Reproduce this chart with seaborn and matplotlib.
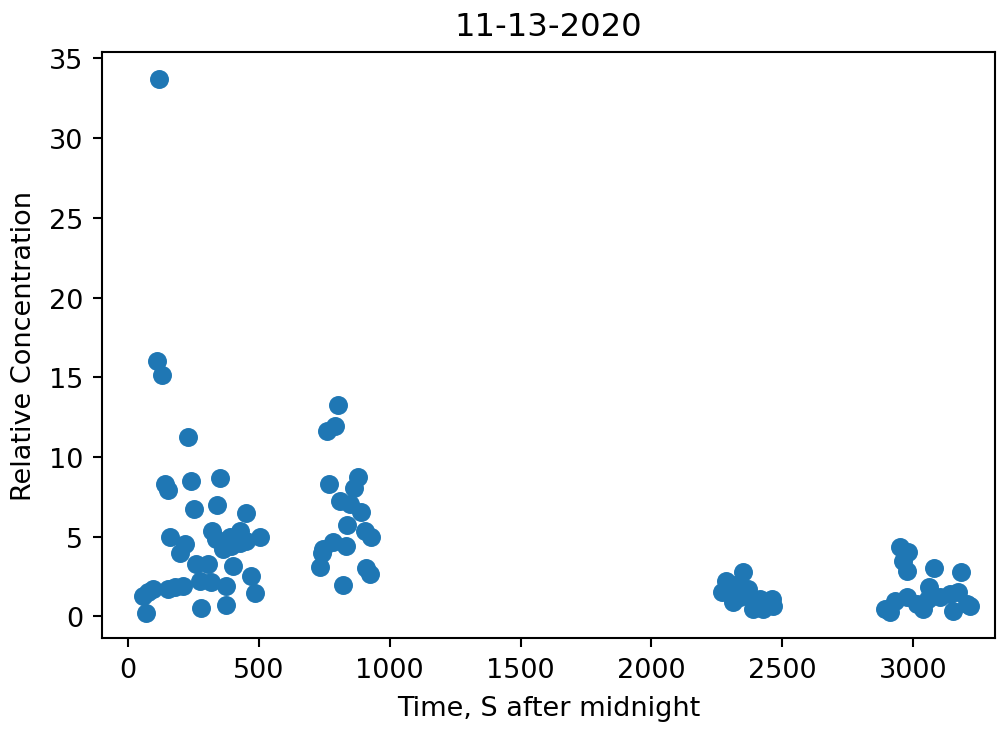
import numpy as np
import pandas as pd
import matplotlib
matplotlib.use("Agg")
import matplotlib.pyplot as plt
import seaborn as sns

# Readings taken from the 11-13-2020 picture (four sampling bursts)
time_s = [
    # burst 1
    118, 112, 131, 231, 143, 153, 242, 350, 251, 342, 450, 159, 217, 200,
    321, 338, 427, 453, 503, 363, 395, 401, 261, 306, 274, 319, 376, 472,
    484, 178, 210, 153, 96, 57, 70, 281, 373, 75, 390, 430, 410,
    # burst 2
    803, 790, 761, 768, 879, 863, 809, 847, 892, 837, 905, 930, 835, 784,
    745, 733, 911, 924, 822, 740,
    # burst 3
    2351, 2287, 2268, 2313, 2370, 2338, 2389, 2427, 2459, 2415, 2466,
    2300, 2357, 2330,
    # burst 4
    2950, 2982, 2963, 2975, 3080, 3182, 2893, 2912, 2931, 2975, 3014,
    3039, 3062, 3058, 3103, 3141, 3154, 3173, 3205, 3217,
]
rel_conc = [
    # burst 1
    33.72, 16.0, 15.16, 11.23, 8.3, 7.92, 8.51, 8.66, 6.73, 6.98, 6.48,
    4.96, 4.54, 3.97, 5.33, 4.85, 5.37, 4.74, 4.96, 4.22, 4.43, 3.17,
    3.28, 3.28, 2.23, 2.13, 1.92, 2.55, 1.44, 1.82, 1.92, 1.71, 1.71,
    1.29, 0.21, 0.5, 0.71, 1.52, 5.0, 4.6, 4.8,
    # burst 2
    13.26, 11.96, 11.64, 8.3, 8.76, 8.03, 7.25, 7.05, 6.52, 5.73, 5.37,
    4.96, 4.43, 4.64, 4.22, 3.07, 3.01, 2.65, 1.96, 4.0,
    # burst 3
    2.76, 2.23, 1.51, 0.88, 1.71, 1.19, 0.46, 0.46, 1.09, 1.09, 0.66,
    1.71, 1.4, 2.0,
    # burst 4
    4.33, 4.02, 3.49, 2.86, 3.01, 2.8, 0.46, 0.25, 0.98, 1.19, 0.77,
    0.46, 1.82, 1.09, 1.19, 1.4, 0.35, 1.51, 0.77, 0.66,
]

df = pd.DataFrame({"time": time_s, "conc": rel_conc})

fig = plt.figure(figsize=(997 / 150, 730 / 150), dpi=150)
ax = fig.add_axes([0.1026, 0.1242, 0.998 - 0.1026, 0.9278 - 0.1242])
sns.scatterplot(data=df, x="time", y="conc", ax=ax, s=83,
                color="#1f77b4", linewidth=0)

ax.set_xlim(-98, 3313)
ax.set_ylim(-1.38, 35.42)
ax.set_xticks([0, 500, 1000, 1500, 2000, 2500, 3000])
ax.set_yticks([0, 5, 10, 15, 20, 25, 30, 35])
ax.tick_params(labelsize=13, length=4.5, width=1, pad=4.5)
for s in ax.spines.values():
    s.set_linewidth(1)
ax.set_title("11-13-2020", fontsize=15.5, pad=8)
ax.set_xlabel("Time, S after midnight", fontsize=13, labelpad=5.5)
ax.set_ylabel("Relative Concentration", fontsize=13, labelpad=6)

fig.savefig("out.png", dpi=150)
